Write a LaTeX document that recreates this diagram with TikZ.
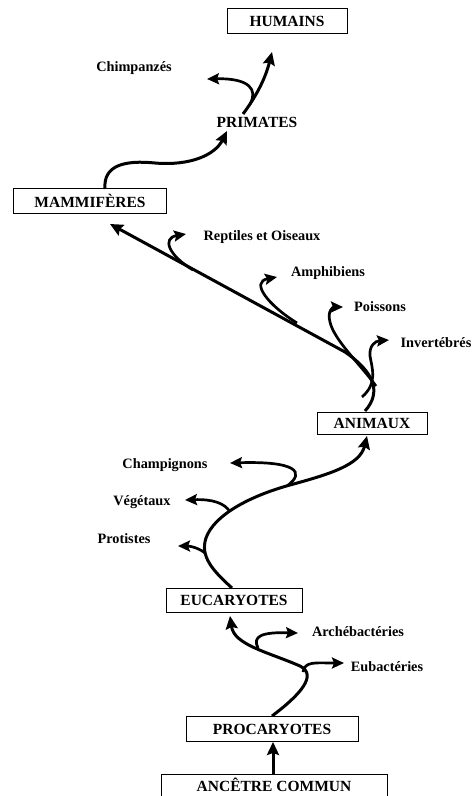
\documentclass[tikz,border=0pt]{standalone}
\usepackage{fontspec}
\setmainfont{Liberation Serif}
\usetikzlibrary{arrows.meta}
\begin{document}
\begin{tikzpicture}[x=1pt,y=-1pt,
  box/.style={draw,line width=0.9pt,inner sep=0pt,font=\fontsize{15.5}{15.5}\selectfont\bfseries},
  lab/.style={inner sep=0pt,font=\fontsize{14.3}{14.3}\selectfont\bfseries},
  evo/.style={line width=3pt,-{Stealth[length=13pt,width=12pt,inset=2pt]}},
  br/.style={line width=2.7pt,-{Stealth[length=12pt,width=11pt,inset=2pt]}}]
\useasboundingbox (0,0) rectangle (475,796);
% boxes
\node[box,minimum width=120pt,minimum height=25pt] (hum) at (287,21) {HUMAINS};
\node[box,minimum width=153pt,minimum height=25pt] (mam) at (90,201) {MAMMIFÈRES};
\node[box,minimum width=110pt,minimum height=22pt] (ani) at (372,423) {ANIMAUX};
\node[box,minimum width=136pt,minimum height=24pt] (euc) at (234,600) {EUCARYOTES};
\node[box,minimum width=172pt,minimum height=25pt] (pro) at (272,729) {PROCARYOTES};
\node[box,minimum width=226pt,minimum height=22pt] (anc) at (274,785) {ANCÊTRE COMMUN};
% labels
\node[lab,font=\fontsize{15.5}{15.5}\selectfont\bfseries] (pri) at (257,122) {PRIMATES};
\node[lab] (chimp) at (134,68) {Chimpanzés};
\node[lab] (rep) at (262,237) {Reptiles et Oiseaux};
\node[lab] (amph) at (328,273) {Amphibiens};
\node[lab] (pois) at (380,307) {Poissons};
\node[lab] (inv) at (436,343) {Invertébrés};
\node[lab] (champ) at (165,465) {Champignons};
\node[lab] (veg) at (142,502) {Végétaux};
\node[lab] (prot) at (124,539) {Protistes};
\node[lab] (arch) at (358,632) {Archébactéries};
\node[lab] (eub) at (387,667) {Eubactéries};
% coordinates
\coordinate (hTip) at (272,52);
\coordinate (cTip) at (207,79);
\coordinate (pBase) at (243,114);
\coordinate (cBase) at (250,104);
\coordinate (priTip) at (227,131);
\coordinate (mamTop) at (105,189);
\coordinate (mamTip) at (110,224);
\coordinate (aniTop) at (365,411);
\coordinate (repB) at (193,270);
\coordinate (repT) at (186,234);
\coordinate (amphB) at (297,323);
\coordinate (amphT) at (277,277);
\coordinate (poisB) at (376,386);
\coordinate (poisT) at (343,307);
\coordinate (invB) at (362,397);
\coordinate (invT) at (389,340);
\coordinate (aniTip) at (367,436);
\coordinate (eucTop) at (232,588);
\coordinate (protB) at (205,553);
\coordinate (protT) at (178,546);
\coordinate (vegB) at (230,512);
\coordinate (vegT) at (185,500);
\coordinate (champB) at (287,486);
\coordinate (champT) at (230,463);
\coordinate (eucTip) at (230,616);
\coordinate (proTop) at (272,716);
\coordinate (archB) at (258,648);
\coordinate (archT) at (298,633);
\coordinate (eubB) at (303,672);
\coordinate (eubT) at (344,663);
% ancestor -> procaryotes
\draw[evo] (anc.north -| 273,0) -- (pro.south -| 273,0);
% procaryotes -> eucaryotes
\draw[evo] (proTop) .. controls (300,695) and (318,675) .. (300,666)
  .. controls (268,652) and (234,645) .. (eucTip);
\draw[br] (archB) .. controls (252,636) and (262,632) .. (archT);
\draw[br] (eubB) .. controls (305,661) and (315,663) .. (eubT);
% eucaryotes -> animaux
\draw[evo] (eucTop) .. controls (212,570) and (200,556) .. (206,538)
  .. controls (214,515) and (250,496) .. (290,485)
  .. controls (330,474) and (360,465) .. (aniTip);
\draw[br] (protB) .. controls (199,548) and (190,546) .. (protT);
\draw[br] (vegB) .. controls (225,503) and (212,499) .. (vegT);
\draw[br] (champB) .. controls (306,472) and (296,461) .. (champT);
% animaux -> mammiferes
\draw[evo] (aniTop) .. controls (382,392) and (374,372) .. (345,352) -- (mamTip);
\draw[br] (repB) .. controls (168,255) and (162,238) .. (repT);
\draw[br] (amphB) .. controls (268,305) and (250,282) .. (amphT);
\draw[br] (poisB) .. controls (360,364) and (334,340) .. (330,322)
  .. controls (327,311) and (333,307) .. (poisT);
\draw[br] (invB) .. controls (378,383) and (372,368) .. (370,356)
  .. controls (369,346) and (375,341) .. (invT);
% mammiferes -> primates
\draw[evo] (mamTop) .. controls (103,165) and (125,160) .. (155,163)
  .. controls (190,166) and (215,155) .. (priTip);
% primates -> humains, chimpanzes
\draw[evo] (pBase) .. controls (255,98) and (265,80) .. (hTip);
\draw[br] (cBase) .. controls (258,90) and (250,78) .. (cTip);
\end{tikzpicture}
\end{document}
